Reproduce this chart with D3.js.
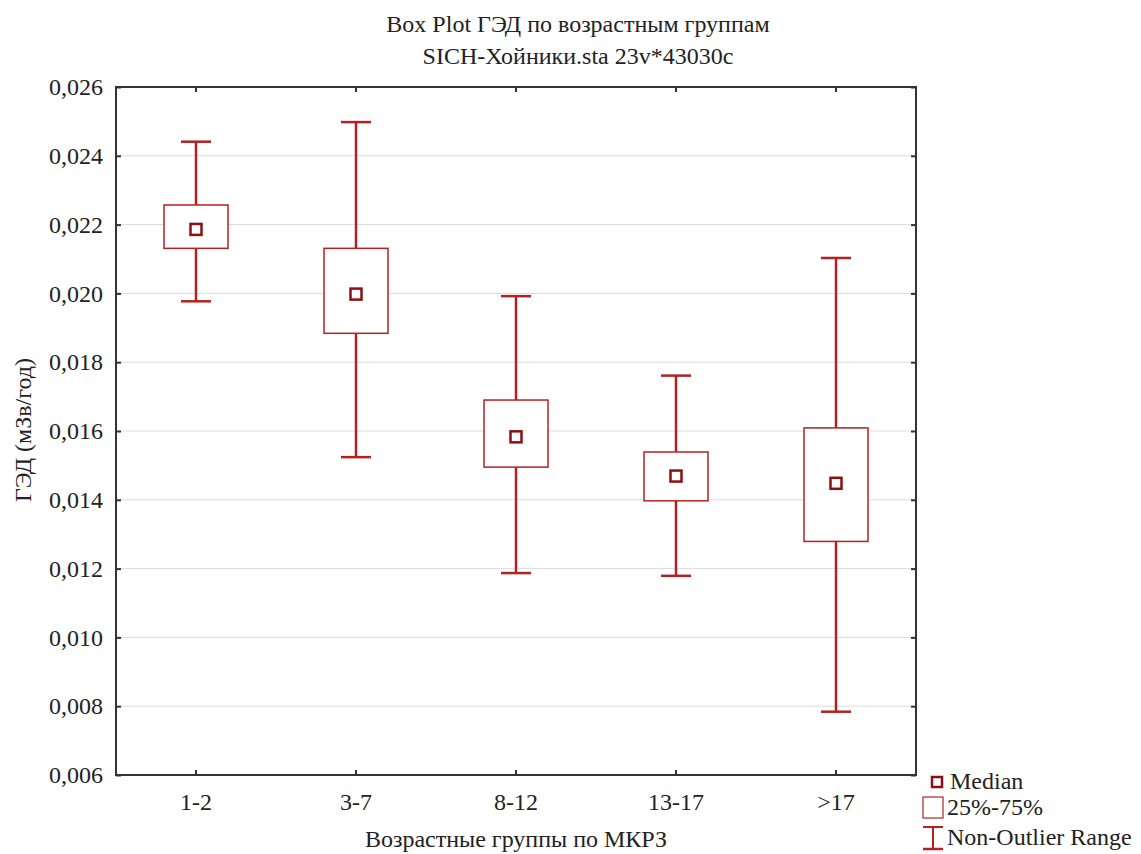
<!DOCTYPE html>
<html><head><meta charset="utf-8">
<script src="https://cdn.jsdelivr.net/npm/d3@7"></script>
<style>body{margin:0;background:#fff}svg{display:block}text{font-family:"Liberation Serif","Times New Roman",serif;fill:#222}</style>
</head><body><svg id="c" width="1141" height="854"></svg>
<script>
const categories = ["1-2","3-7","8-12","13-17",">17"];
const whiskerLow  = [0.01977,0.01524,0.01187,0.01179,0.00784];
const q25         = [0.02131,0.01884,0.01495,0.01397,0.01279];
const medians     = [0.02186,0.01998,0.01583,0.01469,0.01448];
const q75         = [0.02257,0.02131,0.01690,0.01539,0.01609];
const whiskerHigh = [0.02441,0.02498,0.01992,0.01761,0.02103];
const yTicks = [0.006,0.008,0.010,0.012,0.014,0.016,0.018,0.020,0.022,0.024,0.026];

const svg = d3.select("#c");
const L=116,R=916,T=87,B=775;
const FS="24px";
const x = d3.scaleBand().domain(categories).range([L,R]);
const y = d3.scaleLinear().domain([0.006,0.026]).range([B,T]);
const fmt = d => d.toFixed(3).replace(".",",");
const red="#b22222", dark="#8b1010";

// grid
svg.append("g").selectAll("line").data(yTicks.slice(1,-1)).join("line")
  .attr("x1",L).attr("x2",R).attr("y1",d=>y(d)).attr("y2",d=>y(d))
  .attr("stroke","#dcdcdc").attr("stroke-width",1);

// axes
const ax = (g)=>g.call(s=>s.select(".domain").remove()).call(s=>s.selectAll("line").attr("stroke","#333").attr("stroke-width",2));
const txt = g=>g.selectAll("text").style("font-size",FS).style("font-family","Liberation Serif").attr("fill","#222");
svg.append("g").attr("transform",`translate(${L},0)`)
  .call(d3.axisLeft(y).tickValues(yTicks).tickFormat(fmt).tickSize(-5).tickPadding(13))
  .call(ax).call(txt);
svg.append("g").attr("transform",`translate(${R},0)`)
  .call(d3.axisRight(y).tickValues(yTicks).tickFormat("").tickSize(-5)).call(ax);
svg.append("g").attr("transform",`translate(0,${B})`)
  .call(d3.axisBottom(x).tickSize(-5).tickPadding(18))
  .call(ax).call(txt);
svg.append("g").attr("transform",`translate(0,${T})`)
  .call(d3.axisTop(x).tickFormat("").tickSize(-5)).call(ax);
svg.append("rect").attr("x",L).attr("y",T).attr("width",R-L).attr("height",B-T)
  .attr("fill","none").attr("stroke","#333").attr("stroke-width",2);

// boxes
const bw=64, cw=30, ms=11;
const g = svg.append("g");
categories.forEach((c,i)=>{
  const cx = x(c)+x.bandwidth()/2;
  g.append("line").attr("x1",cx).attr("x2",cx).attr("y1",y(whiskerHigh[i])).attr("y2",y(q75[i])).attr("stroke",red).attr("stroke-width",2.5);
  g.append("line").attr("x1",cx).attr("x2",cx).attr("y1",y(q25[i])).attr("y2",y(whiskerLow[i])).attr("stroke",red).attr("stroke-width",2.5);
  [whiskerHigh[i],whiskerLow[i]].forEach(v=>g.append("line").attr("x1",cx-cw/2).attr("x2",cx+cw/2).attr("y1",y(v)).attr("y2",y(v)).attr("stroke",red).attr("stroke-width",2.5));
  g.append("rect").attr("x",cx-bw/2).attr("y",y(q75[i])).attr("width",bw).attr("height",y(q25[i])-y(q75[i]))
    .attr("fill","#fff").attr("stroke",red).attr("stroke-width",1.5);
  g.append("rect").attr("x",cx-ms/2).attr("y",y(medians[i])-ms/2).attr("width",ms).attr("height",ms)
    .attr("fill","#fff").attr("stroke",dark).attr("stroke-width",2.5);
});

// titles
svg.append("text").attr("x",578).attr("y",32).attr("text-anchor","middle").style("font-size",FS).text("Box Plot ГЭД по возрастным группам");
svg.append("text").attr("x",578).attr("y",64).attr("text-anchor","middle").style("font-size",FS).text("SICH-Хойники.sta 23v*43030c");
svg.append("text").attr("transform","translate(31,430) rotate(-90)").attr("text-anchor","middle").style("font-size",FS).text("ГЭД (мЗв/год)");
svg.append("text").attr("x",516).attr("y",847).attr("text-anchor","middle").style("font-size",FS).text("Возрастные группы по МКРЗ");

// legend
const lg = svg.append("g");
lg.append("rect").attr("x",932).attr("y",777).attr("width",10).attr("height",10).attr("fill","#fff").attr("stroke",dark).attr("stroke-width",2.5);
lg.append("text").attr("x",950).attr("y",789).style("font-size",FS).text("Median");
lg.append("rect").attr("x",923).attr("y",797).attr("width",20).attr("height",21).attr("fill","#fff").attr("stroke",red).attr("stroke-width",1.2);
lg.append("text").attr("x",947).attr("y",815).style("font-size",FS).text("25%-75%");
lg.append("line").attr("x1",933).attr("x2",933).attr("y1",827).attr("y2",849).attr("stroke",red).attr("stroke-width",2);
lg.append("line").attr("x1",923).attr("x2",943).attr("y1",827).attr("y2",827).attr("stroke",red).attr("stroke-width",2);
lg.append("line").attr("x1",923).attr("x2",943).attr("y1",849).attr("y2",849).attr("stroke",red).attr("stroke-width",2.5);
lg.append("text").attr("x",947).attr("y",845).style("font-size",FS).text("Non-Outlier Range");
</script></body></html>
